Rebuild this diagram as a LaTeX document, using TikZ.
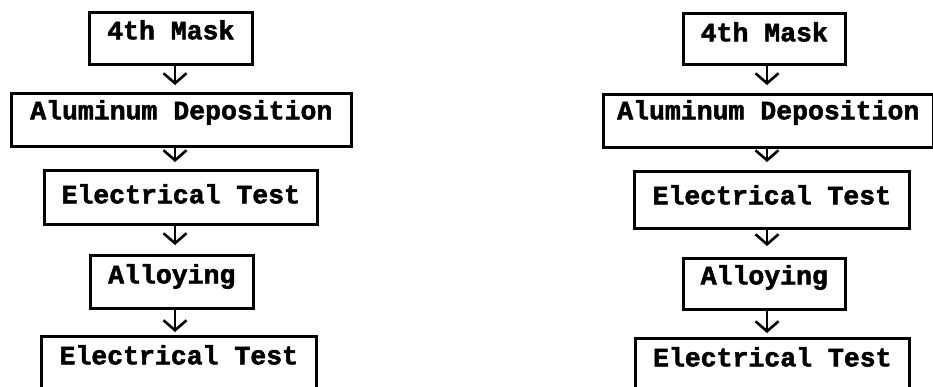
\documentclass[tikz,border=0pt]{standalone}
\usepackage{fontspec}
\setmainfont{Liberation Mono}[BoldFeatures={FakeBold=2}]
\usetikzlibrary{arrows.meta}
\tikzset{
  stepbox/.style={draw, line width=2.6pt, inner xsep=0pt, inner ysep=0pt, anchor=north west,
    font=\bfseries\fontsize{26.5}{30}\selectfont},
  flowarrow/.style={line width=2.6pt, -{Straight Barb[length=10pt,width=23pt,line width=2.6pt]}}
}
\begin{document}
\begin{tikzpicture}[x=1pt,y=-1pt]
\useasboundingbox (0,0) rectangle (933,386);
\clip (0,0) rectangle (933,386);
\fill[white] (0,0) rectangle (933,386);
% left chart
\coordinate (lx) at (175,0);
\node[stepbox, minimum width=163pt, text height=27pt, text depth=25pt] (l1) at (88,11) {4th Mask};
\node[stepbox, minimum width=340pt, text height=26pt, text depth=27pt] (l2) at (10,92) {Aluminum Deposition};
\node[stepbox, minimum width=273pt, text height=33pt, text depth=21pt] (l3) at (43,169) {Electrical Test};
\node[stepbox, minimum width=163pt, text height=28pt, text depth=25pt] (l4) at (89,254) {Alloying};
\node[stepbox, minimum width=275pt, text height=28pt, text depth=60pt] (l5) at (40,335) {Electrical Test};
\draw[flowarrow, shorten >=7pt] (l1.south -| lx) -- (l2.north -| lx);
\draw[flowarrow, shorten >=7pt] (l2.south -| lx) -- (l3.north -| lx);
\draw[flowarrow, shorten >=9pt] (l3.south -| lx) -- (l4.north -| lx);
\draw[flowarrow, shorten >=3pt] (l4.south -| lx) -- (l5.north -| lx);
% right chart
\coordinate (rx) at (767,0);
\node[stepbox, minimum width=162pt, text height=28pt, text depth=23pt] (r1) at (682,12) {4th Mask};
\node[stepbox, minimum width=330pt, text height=25pt, text depth=28pt] (r2) at (602,93) {Aluminum Deposition};
\node[stepbox, minimum width=275pt, text height=33pt, text depth=24pt] (r3) at (633,170) {Electrical Test};
\node[stepbox, minimum width=162pt, text height=26pt, text depth=25pt] (r4) at (682,257) {Alloying};
\node[stepbox, minimum width=274pt, text height=28pt, text depth=60pt] (r5) at (634,337) {Electrical Test};
\draw[flowarrow, shorten >=8pt] (r1.south -| rx) -- (r2.north -| rx);
\draw[flowarrow, shorten >=8pt] (r2.south -| rx) -- (r3.north -| rx);
\draw[flowarrow, shorten >=11pt] (r3.south -| rx) -- (r4.north -| rx);
\draw[flowarrow, shorten >=4pt] (r4.south -| rx) -- (r5.north -| rx);
\end{tikzpicture}
\end{document}
